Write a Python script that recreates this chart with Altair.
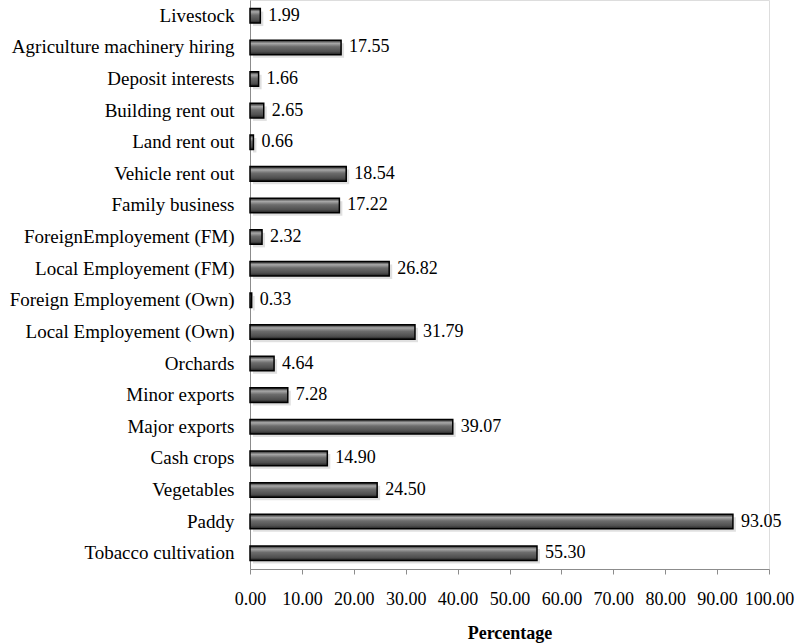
import altair as alt
import pandas as pd

categories = [
    "Livestock", "Agriculture machinery hiring", "Deposit interests", "Building rent out",
    "Land rent out", "Vehicle rent out", "Family business", "ForeignEmployement (FM)",
    "Local Employement (FM)", "Foreign Employement (Own)", "Local Employement (Own)",
    "Orchards", "Minor exports", "Major exports", "Cash crops", "Vegetables", "Paddy",
    "Tobacco cultivation",
]
values = [1.99, 17.55, 1.66, 2.65, 0.66, 18.54, 17.22, 2.32, 26.82, 0.33, 31.79,
          4.64, 7.28, 39.07, 14.90, 24.50, 93.05, 55.30]
x_ticks = [0, 10, 20, 30, 40, 50, 60, 70, 80, 90, 100]

df = pd.DataFrame({"cat": categories, "val": values})
df["lab"] = df["val"].map(lambda v: f"{v:.2f}")

FONT = "Liberation Serif"

grad = alt.Gradient(
    gradient="linear", x1=0, x2=0, y1=0, y2=1,
    stops=[
        alt.GradientStop(color="#1e1e1e", offset=0),
        alt.GradientStop(color="#a8a8a8", offset=0.22),
        alt.GradientStop(color="#6c6c6c", offset=0.45),
        alt.GradientStop(color="#4e4e4e", offset=0.8),
        alt.GradientStop(color="#1e1e1e", offset=1),
    ],
)

y_enc = alt.Y("cat:N", sort=categories, title=None,
              scale=alt.Scale(paddingInner=0.54, paddingOuter=0.27),
              axis=alt.Axis(labelFont=FONT, labelFontSize=19, labelColor="#000",
                            labelPadding=16, ticks=False, domainColor="#8c8c8c",
                            domainWidth=1, labelLimit=400))
x_enc = alt.X("val:Q", title="Percentage",
              scale=alt.Scale(domain=[0, 100], nice=False),
              axis=alt.Axis(values=x_ticks, format=".2f", grid=False,
                            labelFont=FONT, labelFontSize=18, labelColor="#000",
                            labelPadding=16, tickSize=5, tickColor="#8c8c8c",
                            domainColor="#8c8c8c", labelOverlap=False, labelFlush=False,
                            titleFont=FONT, titleFontSize=18, titleFontWeight="bold",
                            titlePadding=16, titleColor="#000"))

shadow = alt.Chart(df).mark_bar(color="#000", opacity=0.12, xOffset=3, yOffset=3).encode(
    x="val:Q", y=alt.Y("cat:N", sort=categories))
bars = alt.Chart(df).mark_bar(fill=grad, stroke="#000", strokeWidth=1.5).encode(
    x=x_enc, y=y_enc)
text = alt.Chart(df).mark_text(align="left", baseline="middle", dx=8, font=FONT,
                               fontSize=18, color="#000").encode(
    x="val:Q", y=alt.Y("cat:N", sort=categories), text="lab:N")

chart = (shadow + bars + text).properties(
    width=519, height=569,
    autosize=alt.AutoSizeParams(type="none"),
    padding={"left": 250, "top": 0, "right": 29, "bottom": 75},
).configure_view(stroke=None).configure(background="white")

chart.save("out.html", embed_options={"renderer": "svg", "actions": False})
